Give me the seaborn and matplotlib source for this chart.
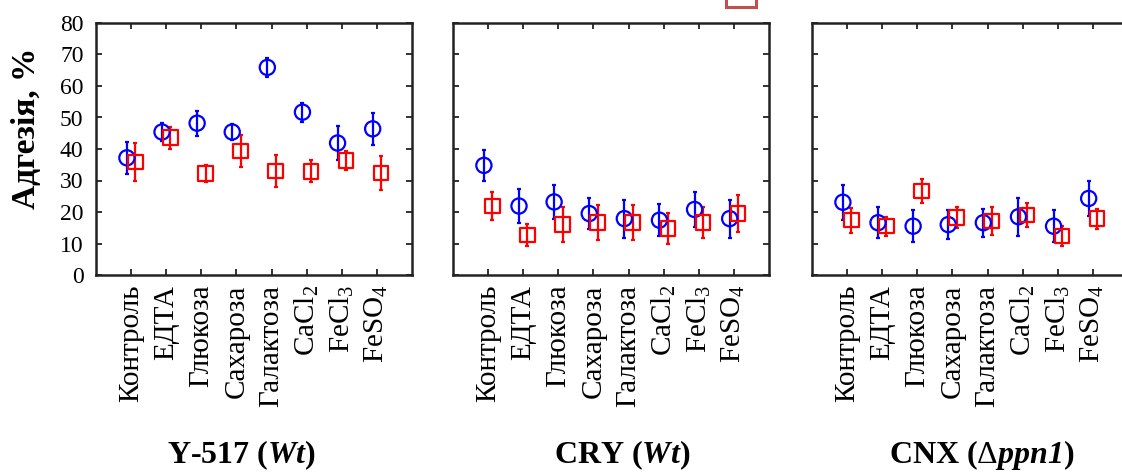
import numpy as np
import pandas as pd
import matplotlib
matplotlib.use("Agg")
import matplotlib.pyplot as plt
import seaborn as sns
from matplotlib.patches import Rectangle

# ---------------- data ----------------
categories = ["Контроль", "ЕДТА", "Глюкоза", "Сахароза", "Галактоза",
              "CaCl$_2$", "FeCl$_3$", "FeSO$_4$"]
panel_titles = [r"Y-517 ($\mathbfit{Wt}$)", r"CRY ($\mathbfit{Wt}$)",
                r"CNX ($\Delta$$\mathbfit{ppn1}$)"]

blue_y517 = [37.2, 45.4, 48.2, 45.4, 65.9, 51.7, 41.9, 46.4]
blue_y517_err = [5.0, 3.0, 4.0, 2.5, 3.0, 3.0, 5.3, 5.0]
red_y517 = [35.9, 43.6, 32.2, 39.3, 33.0, 32.9, 36.4, 32.4]
red_y517_err = [6.0, 3.5, 2.7, 5.0, 5.0, 3.5, 3.0, 5.5]

blue_cry = [34.8, 21.9, 23.2, 19.5, 17.9, 17.4, 20.8, 17.9]
blue_cry_err = [5.0, 5.5, 5.5, 5.0, 6.0, 5.0, 5.5, 6.0]
red_cry = [21.9, 12.7, 16.0, 16.6, 16.6, 14.8, 16.6, 19.5]
red_cry_err = [4.4, 3.5, 5.6, 5.5, 5.5, 5.0, 5.0, 6.0]

blue_cnx = [23.1, 16.6, 15.5, 16.0, 16.6, 18.5, 15.5, 24.3]
blue_cnx_err = [5.5, 5.0, 5.0, 4.7, 4.5, 6.0, 5.0, 5.5]
red_cnx = [17.4, 15.5, 26.7, 18.3, 17.2, 19.0, 12.4, 17.9]
red_cnx_err = [4.0, 3.0, 3.7, 3.3, 4.4, 3.9, 3.2, 3.2]

yticks = [0, 10, 20, 30, 40, 50, 60, 70, 80]

panels = [
    (blue_y517, blue_y517_err, red_y517, red_y517_err),
    (blue_cry, blue_cry_err, red_cry, red_cry_err),
    (blue_cnx, blue_cnx_err, red_cnx, red_cnx_err),
]

# ---------------- style ----------------
sns.set_theme(style="ticks")
plt.rcParams["font.family"] = ["Liberation Serif", "DejaVu Serif"]
plt.rcParams["text.color"] = "black"
plt.rcParams["xtick.color"] = "black"
plt.rcParams["ytick.color"] = "black"
plt.rcParams["mathtext.fontset"] = "custom"
plt.rcParams["mathtext.rm"] = "Liberation Serif"
plt.rcParams["mathtext.it"] = "Liberation Serif:italic"
plt.rcParams["mathtext.bf"] = "Liberation Serif:bold"
plt.rcParams["mathtext.bfit"] = "Liberation Serif:bold:italic"

W, H = 1122, 472
fig = plt.figure(figsize=(W / 100, H / 100), dpi=100)

lefts = [96, 453, 812]
pw = 316
top, bottom = 23, 275
title_x = [242, 622, 982]

BLUE = "#0000ff"
RED = "#ff0000"
off = 0.12

for i, (bv, be, rv, re_) in enumerate(panels):
    ax = fig.add_axes([lefts[i] / W, 1 - bottom / H, pw / W, (bottom - top) / H])
    idx = np.arange(len(categories))
    df = pd.DataFrame({
        "x": np.concatenate([idx - off, idx + off]),
        "y": np.concatenate([bv, rv]),
        "err": np.concatenate([be, re_]),
        "series": ["blue"] * len(bv) + ["red"] * len(rv),
    })
    for name, col, mk, s in [("blue", BLUE, "o", 120), ("red", RED, "s", 110)]:
        d = df[df["series"] == name]
        ax.errorbar(d["x"], d["y"], yerr=d["err"], fmt="none", ecolor=col,
                    elinewidth=1.6, capsize=1.5, capthick=1.6, zorder=2)
        sns.scatterplot(data=d, x="x", y="y", ax=ax, marker=mk, s=s,
                        color=col, edgecolor=col, facecolors="none",
                        linewidth=1.6, zorder=3, legend=False)
    ax.set_xlim(-1, 8)
    ax.set_ylim(0, 80)
    ax.set_xticks(idx)
    ax.set_xticklabels(categories, rotation=90, fontsize=21, color="black")
    ax.set_yticks(yticks)
    if i == 0:
        ax.set_yticklabels([str(t) for t in yticks], fontsize=17, color="black")
    else:
        ax.set_yticklabels([])
    ax.tick_params(direction="in", top=True, right=True, length=4, width=1.3,
                   color="#222222", labelcolor="black", pad=9)
    ax.tick_params(axis="x", pad=7)
    ax.set_xlabel("")
    ax.set_ylabel("")
    for sp in ax.spines.values():
        sp.set_linewidth(1.8)
        sp.set_color("#222222")
        sp.set_visible(True)
    fig.text(title_x[i] / W, 1 - 455 / H, panel_titles[i], ha="center",
             va="center", fontsize=23, fontweight="bold", color="black")

fig.text(27 / W, 1 - 128 / H, "Адгезія, %", rotation=90, ha="center",
         va="center", fontsize=24, fontweight="bold", color="black")

# partially visible legend handle at the top edge
fig.patches.append(Rectangle((726 / W, 1 - 7 / H), 30 / W, 14 / H,
                             transform=fig.transFigure, facecolor="white",
                             edgecolor="#c0504d", linewidth=2.2))

fig.savefig("out.png", dpi=100)
